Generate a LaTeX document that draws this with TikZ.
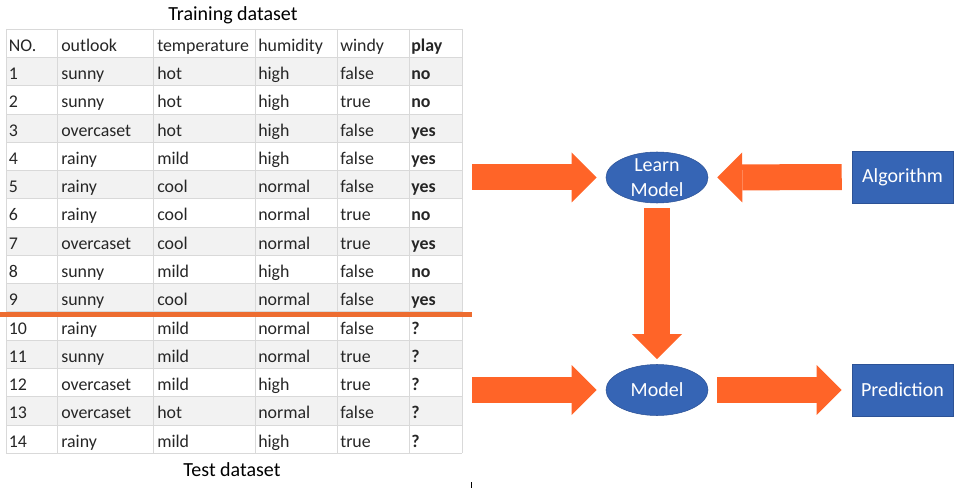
\documentclass[tikz,border=0pt]{standalone}
\usepackage{fontspec}
\setmainfont{Carlito}
\usetikzlibrary{shapes, arrows.meta, positioning, calc}
\definecolor{arroworange}{RGB}{255,100,40}
\definecolor{lineorange}{RGB}{237,108,48}
\definecolor{boxblue}{RGB}{54,101,181}
\definecolor{boxborder}{RGB}{44,82,150}
\definecolor{gridgray}{RGB}{217,217,217}
\definecolor{rowgray}{RGB}{242,242,242}

\begin{document}
\begin{tikzpicture}[x=0.75pt, y=-0.75pt,
    cell/.style={anchor=base west, inner sep=0pt, font=\fontsize{13.4}{16}\selectfont, text=black!85},
    title/.style={anchor=base, inner sep=0pt, font=\fontsize{15}{18}\selectfont},
    blob/.style={draw=boxborder, fill=boxblue, ellipse, minimum width=76.5pt, minimum height=38.25pt, inner sep=0pt},
    box/.style={draw=boxborder, fill=boxblue, minimum width=75.75pt, minimum height=39pt, inner sep=0pt, text=white, font=\fontsize{15}{18.5}\selectfont},
    lbl/.style={text=white, align=center, inner sep=0pt, font=\fontsize{15}{18.5}\selectfont},
    bigarrow/.style={arroworange, line width=19.5pt, -{Triangle[length=18.75pt, width=37.5pt, line width=0pt]}}]
\useasboundingbox (0,0) rectangle (974,488);

\foreach \r in {1,3,...,13}
  \fill[rowgray] (6,{29+28.27*\r}) rectangle (462,{29+28.27*(\r+1)});
\foreach \r in {0,...,15}
  \draw[gridgray] (6,{29+28.27*\r}) -- (462,{29+28.27*\r});
\foreach \x in {6,57,153,255,337,409,462}
  \draw[gridgray] (\x,29) -- (\x,453);

\foreach \r/\a/\b/\c/\d/\e/\f in {0/NO./outlook/temperature/humidity/windy/play,
    1/1/sunny/hot/high/false/no, 2/2/sunny/hot/high/true/no,
    3/3/overcaset/hot/high/false/yes, 4/4/rainy/mild/high/false/yes,
    5/5/rainy/cool/normal/false/yes, 6/6/rainy/cool/normal/true/no,
    7/7/overcaset/cool/normal/true/yes, 8/8/sunny/mild/high/false/no,
    9/9/sunny/cool/normal/false/yes, 10/10/rainy/mild/normal/false/?,
    11/11/sunny/mild/normal/true/?, 12/12/overcaset/mild/high/true/?,
    13/13/overcaset/hot/normal/false/?, 14/14/rainy/mild/high/true/?}{
  \node[cell] (no\r) at (8.5,{29+28.27*\r+22.3}) {\a};
  \node[cell] (out\r) at (61,{29+28.27*\r+22.3}) {\b};
  \node[cell] (temp\r) at (157,{29+28.27*\r+22.3}) {\c};
  \node[cell] (hum\r) at (258,{29+28.27*\r+22.3}) {\d};
  \node[cell] (wind\r) at (340,{29+28.27*\r+22.3}) {\e};
  \node[cell] (play\r) at (411,{29+28.27*\r+22.3}) {\textbf{\f}};
}

\node[title] (train) at (233,21) {Training dataset};
\node[title] (test) at (232,476) {Test dataset};
\draw[lineorange, line width=3.75pt] (0,314) -- (472,314);
\draw[black] (471.5,482) -- (471.5,488);

\node[blob] (learn) at (657,177.5) {};
\node[lbl] (learntxt) at (learn) {Learn\\Model};
\node[box] (algo) at (902.5,177) {Algorithm};
\node[blob] (model) at (657,390) {};
\node[lbl] (modeltxt) at (model) {Model};
\node[box] (pred) at (902.5,390) {Prediction};

\coordinate (trainin) at (472,177.5);
\coordinate (testin) at (472,390);
\draw[bigarrow, shorten >=6.75pt] (trainin) -- (learn.west);
\draw[bigarrow, shorten <=7.5pt, shorten >=6.75pt] (algo.west) -- (learn.east);
\draw[bigarrow, shorten <=3.75pt, shorten >=3.75pt] (learn.south) -- (model.north);
\draw[bigarrow, shorten >=6.75pt] (testin) -- (model.west);
\draw[bigarrow, shorten <=6.75pt, shorten >=7.5pt] (model.east) -- (pred.west);
\end{tikzpicture}
\end{document}
